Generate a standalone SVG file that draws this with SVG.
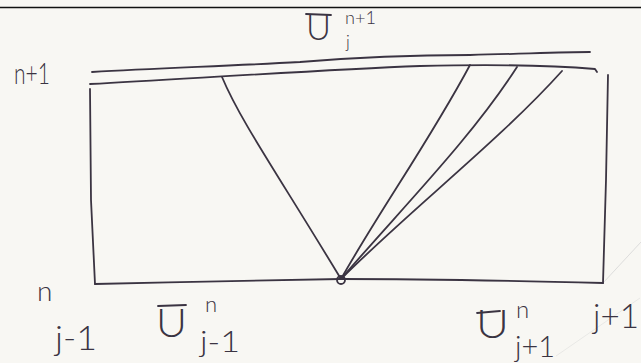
<svg xmlns="http://www.w3.org/2000/svg" width="641" height="363" viewBox="0 0 641 363">
<style>
.ink{fill:none;stroke:#3b3442;stroke-width:1.8;stroke-linecap:round;stroke-linejoin:round}
.t{font-family:Lato,"Open Sans","Liberation Sans",sans-serif;font-weight:300;fill:#3b3442}
.ov{stroke:#3b3442;stroke-width:1.8;stroke-linecap:round}
</style>
<rect width="641" height="363" fill="#f8f7f3"/>
<line x1="0" y1="7.5" x2="641" y2="7.5" stroke="#111" stroke-width="1.6"/>
<g id="faint">
<path d="M603 283 L641 242" stroke="#d6d6d6" stroke-width="0.8" fill="none"/>
<path d="M640 298 L556 356" stroke="#e4e4e2" stroke-width="0.8" fill="none"/>
</g>
<g id="grid" class="ink">
<path d="M92 72 C160 68 230 66 300 62 C360 57 420 55 470 55 C520 54 560 52 590 52"/>
<path d="M90 84 C200 78 320 70 420 66 C500 64 560 66 595 69 L597 72"/>
<path d="M90 89 L91 200 L95 284"/>
<path d="M608 75 L606 180 L603 283"/>
<path d="M95 284 C180 282 280 280 341 279 C420 279 520 281 603 283"/>
</g>
<g id="connectors" class="ink">
<path d="M222 77 C240 120 275 170 341 279"/>
<path d="M470 65 C430 140 380 210 341 279"/>
<path d="M517 67 C470 140 400 210 341 279"/>
<path d="M562 71 C500 140 410 210 341 279"/>
</g>
<g id="vertex"><circle cx="341" cy="280" r="4" class="ink"/></g>
<g id="labels">
<text class="t" x="14" y="84" font-size="30" textLength="36" lengthAdjust="spacingAndGlyphs">n+1</text>
<text class="t" x="37" y="301" font-size="28">n</text>
<text class="t" x="55" y="350" font-size="34" textLength="42" lengthAdjust="spacingAndGlyphs">j-1</text>
<text class="t" x="593" y="328" font-size="33" textLength="46" lengthAdjust="spacingAndGlyphs">j+1</text>
</g>
<g id="U_top">
<line class="ov" x1="306" y1="14" x2="331" y2="15"/>
<text class="t" x="306" y="40" font-size="36" textLength="25" lengthAdjust="spacingAndGlyphs">U</text>
<text class="t" x="345" y="24" font-size="18" textLength="31" lengthAdjust="spacingAndGlyphs">n+1</text>
<text class="t" x="346" y="48" font-size="17">j</text>
</g>
<g id="U_left">
<line class="ov" x1="158" y1="306" x2="186" y2="305"/>
<text class="t" x="156" y="337" font-size="40" textLength="31" lengthAdjust="spacingAndGlyphs">U</text>
<text class="t" x="205" y="312" font-size="22">n</text>
<text class="t" x="200" y="352" font-size="29" textLength="40" lengthAdjust="spacingAndGlyphs">j-1</text>
</g>
<g id="U_right">
<line class="ov" x1="477" y1="313" x2="500" y2="311"/>
<text class="t" x="476" y="338" font-size="40" textLength="33" lengthAdjust="spacingAndGlyphs">U</text>
<text class="t" x="516" y="318" font-size="24">n</text>
<text class="t" x="515" y="357" font-size="29" textLength="40" lengthAdjust="spacingAndGlyphs">j+1</text>
</g>
</svg>
